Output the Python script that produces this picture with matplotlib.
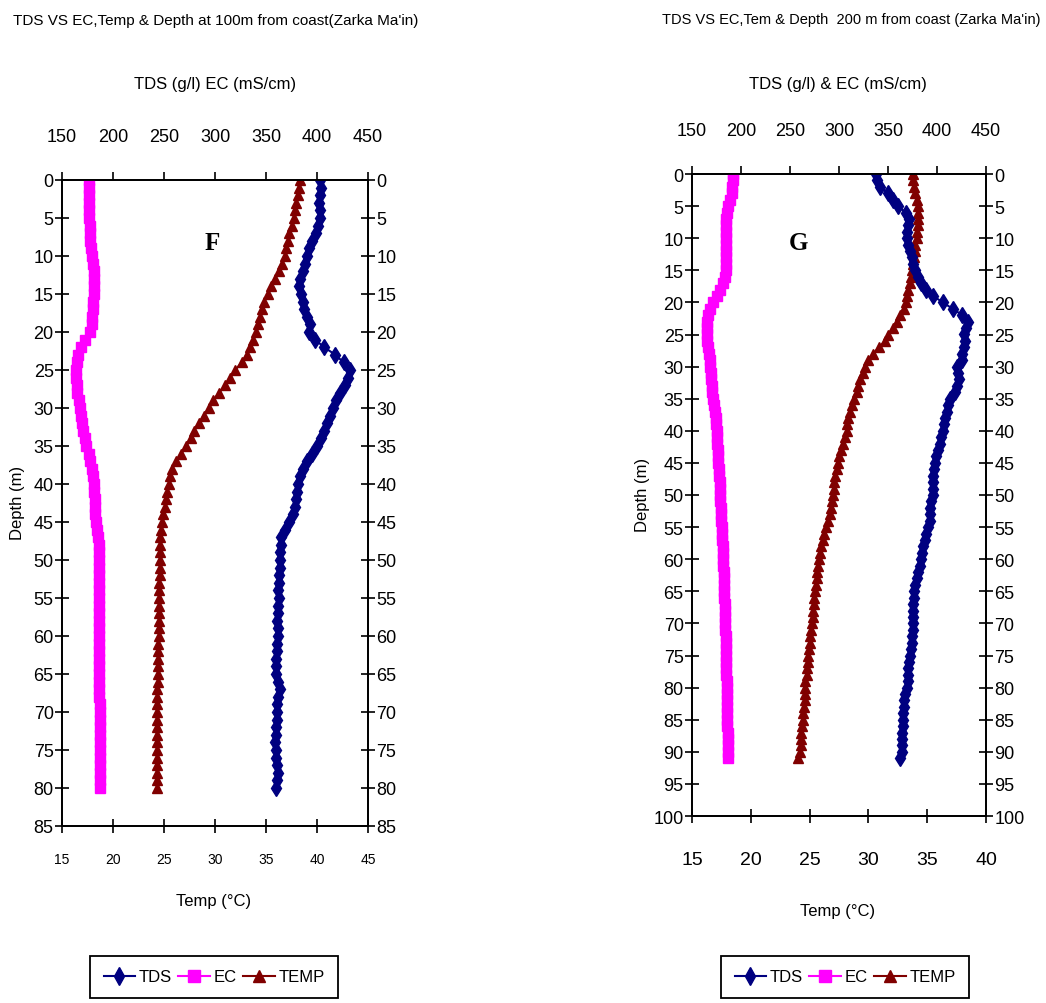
import matplotlib
matplotlib.use('Agg')
import matplotlib.pyplot as plt
from matplotlib.lines import Line2D

plt.rcParams['font.family'] = ['Liberation Sans', 'DejaVu Sans']

# ---- well F : 100 m from coast ----
depth_f = list(range(0, 81))
tds_f = [403, 404, 403, 402, 403, 403, 401, 399, 395, 392,
         390, 388, 386, 383, 382, 384, 386, 387, 390, 393,
         392, 398, 407, 418, 426, 432, 430, 427, 423, 419,
         416, 413, 410, 407, 404, 400, 395, 390, 386, 383,
         381, 380, 379, 378, 376, 373, 369, 365, 365, 364,
         364, 364, 363, 363, 362, 363, 362, 362, 361, 362,
         362, 361, 361, 360, 360, 360, 362, 364, 362, 361,
         361, 361, 360, 360, 359, 360, 360, 361, 362, 361,
         360]
ec_f = [176, 176, 176, 176, 176, 176, 177, 177, 177.5, 178,
        179, 180, 181, 181, 181, 181, 180.5, 180, 179.5, 179,
        177, 173, 169, 166, 165, 164, 164, 164.5, 165, 166.5,
        167.5, 168.5, 170, 171, 172.5, 174, 176, 177.5, 179, 180,
        181, 181.5, 182, 182, 182.5, 183, 184.5, 185.5, 186.5, 186.5,
        186.5, 186.5, 186.5, 186.5, 186.6, 186.6, 186.6, 186.6, 186.6, 186.6,
        186.6, 186.6, 186.6, 186.6, 186.6, 186.6, 186.6, 186.6, 186.6, 186.8,
        187, 187.5, 187.5, 187.5, 187, 187, 186.8, 186.8, 186.8, 187,
        187]
temp_f = [38.3, 38.2, 38.1, 37.9, 37.8, 37.7, 37.5, 37.3, 37.2, 37.0,
          36.9, 36.6, 36.3, 35.9, 35.5, 35.2, 34.8, 34.6, 34.4, 34.2,
          34.0, 33.7, 33.4, 33.1, 32.6, 32.0, 31.5, 31.0, 30.4, 29.8,
          29.4, 28.9, 28.4, 27.9, 27.6, 27.2, 26.7, 26.2, 25.8, 25.6,
          25.5, 25.3, 25.2, 25.1, 24.9, 24.8, 24.7, 24.6, 24.6, 24.6,
          24.6, 24.6, 24.6, 24.55, 24.55, 24.55, 24.5, 24.5, 24.5, 24.5,
          24.5, 24.45, 24.45, 24.4, 24.4, 24.4, 24.4, 24.35, 24.35, 24.3,
          24.3, 24.3, 24.3, 24.3, 24.3, 24.3, 24.3, 24.3, 24.3, 24.3,
          24.3]

# ---- well G : 200 m from coast ----
depth_g = list(range(0, 92))
tds_g = [338, 339, 342, 350, 355, 360, 368, 371, 370, 369,
         369, 370, 372, 374, 376, 378, 381, 384, 389, 396,
         406, 416, 426, 432, 430, 428, 429, 428, 426, 425,
         420, 421, 422, 420, 418, 413, 411, 410, 408, 407,
         406, 404, 403, 401, 399, 398, 397, 396, 396, 396,
         396, 394, 393, 393, 393, 391, 389, 388, 386, 385,
         384, 383, 381, 380, 378, 377, 377, 376, 376, 375,
         375, 375, 374, 374, 373, 372, 371, 370, 370, 370,
         369, 367, 366, 366, 365, 365, 365, 364, 364, 364,
         364, 362]
ec_g = [191.5, 191.5, 191, 190.5, 189, 187, 185.5, 185, 184.7, 184.7,
        184.7, 184.7, 184.7, 184.7, 184.7, 184.5, 184, 182, 178.6, 175,
        171.5, 168.5, 166, 165, 165, 165, 165.5, 166.5, 167.5, 168,
        168.4, 169, 169.5, 170, 170.5, 171.7, 172.5, 173, 174, 174.5,
        175, 175.5, 176, 176.3, 176.5, 176.8, 177.5, 178, 178.6, 178.6,
        178.6, 179, 179.3, 179.6, 180, 180.3, 180.6, 181, 181.3, 181.6,
        182, 182.1, 182.3, 182.5, 182.6, 182.7, 183, 183.2, 183.4, 183.6,
        183.7, 184, 184.2, 184.4, 184.6, 184.7, 185, 185.1, 185.2, 185.3,
        185.4, 185.5, 185.6, 185.8, 185.9, 186, 186.2, 186.4, 186.6, 186.8,
        187, 187]
temp_g = [33.8, 33.8, 33.9, 34.0, 34.1, 34.2, 34.25, 34.25, 34.2, 34.15,
          34.1, 34.0, 33.95, 33.9, 33.8, 33.7, 33.6, 33.5, 33.4, 33.3,
          33.2, 33.0, 32.7, 32.4, 32.1, 31.7, 31.4, 30.9, 30.4, 30.0,
          29.7, 29.5, 29.3, 29.1, 29.0, 28.8, 28.6, 28.4, 28.3, 28.2,
          28.15, 28.0, 27.8, 27.7, 27.5, 27.4, 27.3, 27.15, 27.1, 27.05,
          27.0, 26.9, 26.8, 26.7, 26.55, 26.4, 26.25, 26.1, 26.0, 25.9,
          25.8, 25.75, 25.65, 25.6, 25.55, 25.5, 25.4, 25.35, 25.3, 25.25,
          25.2, 25.15, 25.05, 25.0, 24.95, 24.9, 24.85, 24.8, 24.75, 24.65,
          24.6, 24.6, 24.6, 24.5, 24.45, 24.4, 24.35, 24.3, 24.3, 24.25,
          24.2, 24.05]

series_names = ['TDS', 'EC', 'TEMP']
series_colors = ['#000080', '#FF00FF', '#800000']
series_markers = ['d', 's', '^']

W, H = 1046, 1004
fig = plt.figure(figsize=(W / 100, H / 100), dpi=100)


def fx(px):
    return px / W


def fy(py):
    return 1 - py / H


def panel(box, depth, tds, ec, temp, tmax, dmax, bot_size, bot_pad):
    left, right, top, bottom = box
    ax = fig.add_axes([fx(left), fy(bottom), (right - left) / W, (bottom - top) / H])
    ax.set_xlim(15, tmax)
    ax.set_ylim(dmax, 0)
    ax.set_xticks(range(15, tmax + 1, 5))
    ax.set_yticks(range(0, dmax + 1, 5))
    ax.tick_params(axis='y', direction='inout', length=10, width=1.2,
                   left=True, right=True, labelleft=True, labelright=True,
                   labelsize=13, pad=1)
    ax.tick_params(axis='x', direction='inout', length=10, width=1.2,
                   labelsize=bot_size, pad=bot_pad)

    # TDS and EC share the upper scale
    axt = ax.twiny()
    axt.set_xlim(150, 450)
    axt.set_xticks(range(150, 451, 50))
    axt.tick_params(axis='x', direction='out', length=6, width=1.2,
                    labelsize=13, pad=19)

    for a in (ax, axt):
        for s in a.spines.values():
            s.set_linewidth(1.3)

    axt.plot(tds, depth, color=series_colors[0], marker=series_markers[0],
             ms=8, mec=series_colors[0], lw=1.5)
    axt.plot(ec, depth, color=series_colors[1], marker=series_markers[1],
             ms=7, mec=series_colors[1], lw=1.5)
    ax.plot(temp, depth, color=series_colors[2], marker=series_markers[2],
            ms=7, mec=series_colors[2], lw=1.5)
    return ax


panel((62, 368, 181, 827), depth_f, tds_f, ec_f, temp_f, 45, 85, 10, 14)
panel((692, 986, 175, 817), depth_g, tds_g, ec_g, temp_g, 40, 100, 14, 20)

# titles and axis captions
fig.text(fx(216), fy(21), "TDS VS EC,Temp & Depth at 100m from coast(Zarka Ma'in)",
         ha='center', va='center', fontsize=11)
fig.text(fx(1040), fy(20), "TDS VS EC,Tem & Depth  200 m from coast (Zarka Ma'in)",
         ha='right', va='center', fontsize=10.5)
fig.text(fx(215), fy(84), 'TDS (g/l) EC (mS/cm)', ha='center', va='center', fontsize=12)
fig.text(fx(838), fy(84), 'TDS (g/l) & EC (mS/cm)', ha='center', va='center', fontsize=12)
fig.text(fx(214), fy(902), 'Temp (°C)', ha='center', va='center', fontsize=12)
fig.text(fx(838), fy(912), 'Temp (°C)', ha='center', va='center', fontsize=12)
fig.text(fx(18), fy(503), 'Depth (m)', ha='center', va='center', rotation=90,
         fontsize=12)
fig.text(fx(643), fy(495), 'Depth (m)', ha='center', va='center', rotation=90,
         fontsize=12)

# well letters
fig.text(fx(212), fy(243), 'F', ha='center', va='center', fontsize=18,
         fontweight='bold', family=['Liberation Serif', 'DejaVu Serif'])
fig.text(fx(798), fy(243), 'G', ha='center', va='center', fontsize=18,
         fontweight='bold', family=['Liberation Serif', 'DejaVu Serif'])

handles = [Line2D([], [], color=c, marker=m, ms=9, mec=c, lw=1.5)
           for c, m in zip(series_colors, series_markers)]
for cx in (214, 845):
    leg = fig.legend(handles, series_names, loc='upper center',
                     bbox_to_anchor=(fx(cx), fy(957)), ncol=3, fontsize=12,
                     frameon=True, fancybox=False, edgecolor='black', framealpha=1,
                     handlelength=1.9, handletextpad=0.2,
                     columnspacing=0.4, borderpad=0.8, borderaxespad=0)
    leg.get_frame().set_linewidth(1.3)

fig.savefig('out.png', dpi=100)
